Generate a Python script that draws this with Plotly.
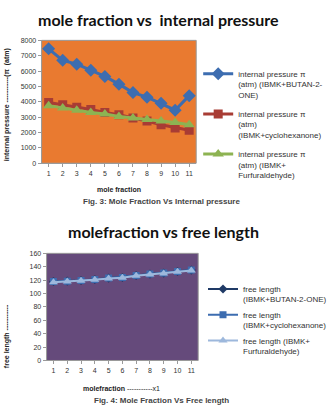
import plotly.graph_objects as go

W, H = 332, 408

x_vals = list(range(1, 12))
tick_labels = [str(i) for i in x_vals]

ip_butanone = [7450, 6700, 6450, 6050, 5650, 5150, 4600, 4300, 3900, 3450, 4400]
ip_cyclohex = [3950, 3800, 3650, 3500, 3300, 3150, 2950, 2750, 2500, 2300, 2150]
ip_furfural = [3750, 3600, 3450, 3300, 3200, 3050, 2950, 2850, 2750, 2650, 2500]

fl_butanone = [118, 118.5, 119.5, 121, 123, 124, 127, 129, 130.5, 133, 135]
fl_cyclohex = [118, 118.5, 119.5, 121, 123, 124, 127, 129, 130.5, 133, 135]
fl_furfural = [117, 118, 119, 120.5, 122.5, 123.5, 126.5, 128.5, 130, 132.5, 134.5]

ip_names = ["internal pressure π<br>(atm) (IBMK+BUTAN-2-<br>ONE)",
            "internal pressure π<br>(atm)<br>(IBMK+cyclohexanone)",
            "internal pressure π<br>(atm) (IBMK+<br>Furfuraldehyde)"]
fl_names = ["free length<br>(IBMK+BUTAN-2-ONE)",
            "free length<br>(IBMK+cyclohexanone)",
            "free length (IBMK+<br>Furfuraldehyde)"]


def px(x):
    return x / W


def py(y):
    return 1 - y / H


fig = go.Figure()

# Chart 1
fig.add_trace(go.Scatter(x=x_vals, y=ip_butanone, name=ip_names[0], mode="lines+markers",
                         line=dict(color="#3D6DB0", width=3),
                         marker=dict(symbol="diamond", size=10, color="#3D6DB0"),
                         xaxis="x", yaxis="y", legend="legend", legendgroup="a1"))
fig.add_trace(go.Scatter(x=x_vals, y=ip_cyclohex, name=ip_names[1], mode="lines+markers",
                         line=dict(color="#A83C34", width=3),
                         marker=dict(symbol="square", size=9, color="#A83C34"),
                         xaxis="x", yaxis="y", legend="legend", legendgroup="a2"))
fig.add_trace(go.Scatter(x=x_vals, y=ip_furfural, name=ip_names[2], mode="lines+markers",
                         line=dict(color="#8DB352", width=3),
                         marker=dict(symbol="triangle-up", size=10, color="#8DB352"),
                         xaxis="x", yaxis="y", legend="legend", legendgroup="a3"))

# Chart 2
fig.add_trace(go.Scatter(x=x_vals, y=fl_butanone, name=fl_names[0], mode="lines+markers",
                         line=dict(color="#1F3A66", width=2),
                         marker=dict(symbol="diamond", size=7, color="#1F3A66"),
                         xaxis="x2", yaxis="y2", legend="legend2", legendgroup="b1"))
fig.add_trace(go.Scatter(x=x_vals, y=fl_cyclohex, name=fl_names[1], mode="lines+markers",
                         line=dict(color="#3D6DB0", width=2),
                         marker=dict(symbol="square", size=7, color="#3D6DB0"),
                         xaxis="x2", yaxis="y2", legend="legend2", legendgroup="b2"))
fig.add_trace(go.Scatter(x=x_vals, y=fl_furfural, name=fl_names[2], mode="lines+markers",
                         line=dict(color="#9DB8DC", width=2),
                         marker=dict(symbol="triangle-up", size=8, color="#9DB8DC"),
                         xaxis="x2", yaxis="y2", legend="legend2", legendgroup="b3"))

tick_font = dict(family="Liberation Sans, Arial", size=7, color="#333333")
axis_common = dict(showgrid=False, zeroline=False, showline=True, linecolor="#9a9a9a",
                   linewidth=1, ticks="outside", ticklen=3, tickcolor="#9a9a9a",
                   tickfont=tick_font, mirror=False)


def ann(text, x, y, size, family="Liberation Sans, Arial", color="#222222", angle=0):
    return dict(text=text, x=px(x), y=py(y), xref="paper", yref="paper", xanchor="center",
                yanchor="middle", showarrow=False, textangle=angle,
                font=dict(family=family, size=size, color=color))


fig.update_layout(
    width=W, height=H, margin=dict(l=0, r=0, t=0, b=0),
    paper_bgcolor="white", plot_bgcolor="white",
    xaxis=dict(domain=[px(42), px(198)], range=[0.5, 11.5], tickvals=x_vals, ticktext=tick_labels,
               anchor="y", **axis_common),
    yaxis=dict(domain=[py(162), py(37)], range=[0, 8000], dtick=1000, anchor="x", **axis_common),
    xaxis2=dict(domain=[px(47), px(200)], range=[0.5, 11.5], tickvals=x_vals, ticktext=tick_labels,
                anchor="y2", **axis_common),
    yaxis2=dict(domain=[py(362.7), py(253.7)], range=[0, 160], dtick=20, anchor="x2", **axis_common),
    legend=dict(x=px(200), y=py(59), xanchor="left", yanchor="top", valign="top",
                font=dict(family="Liberation Sans, Arial", size=8, color="#333333"),
                tracegroupgap=6, bgcolor="rgba(0,0,0,0)", itemwidth=30),
    legend2=dict(x=px(205), y=py(278), xanchor="left", yanchor="top", valign="top",
                 font=dict(family="Liberation Sans, Arial", size=8, color="#333333"),
                 tracegroupgap=2, bgcolor="rgba(0,0,0,0)", itemwidth=30),
    shapes=[
        dict(type="rect", xref="paper", yref="paper", x0=px(42), x1=px(198), y0=py(162), y1=py(37),
             fillcolor="#E97A30", line=dict(color="#9a9a9a", width=1), layer="below"),
        dict(type="rect", xref="paper", yref="paper", x0=px(47), x1=px(200), y0=py(362.7), y1=py(253.7),
             fillcolor="#654A7B", line=dict(color="#9a9a9a", width=1), layer="below"),
    ],
    annotations=[
        ann("<b>mole fraction vs  internal pressure</b>", 160, 16, 16, "Lato, Open Sans", "#111111"),
        ann("<b>internal pressure -----------(π  (atm)</b>", 7, 102, 7, angle=-90),
        ann("<b>mole fraction</b>", 120, 189, 7),
        ann("<b>Fig. 3: Mole Fraction Vs Internal pressure</b>", 163, 201, 8, color="#444444"),
        ann("<b>molefraction vs free length</b>", 165, 231, 16, "Lato, Open Sans", "#111111"),
        ann("<b>free length -----------</b>", 7, 338, 7, angle=-90),
        ann("<b>molefraction</b> -----------x1", 123, 391, 7),
        ann("<b>Fig. 4: Mole Fraction Vs Free length</b>", 163, 403, 8, color="#444444"),
    ],
)

fig.write_html("out.html")
